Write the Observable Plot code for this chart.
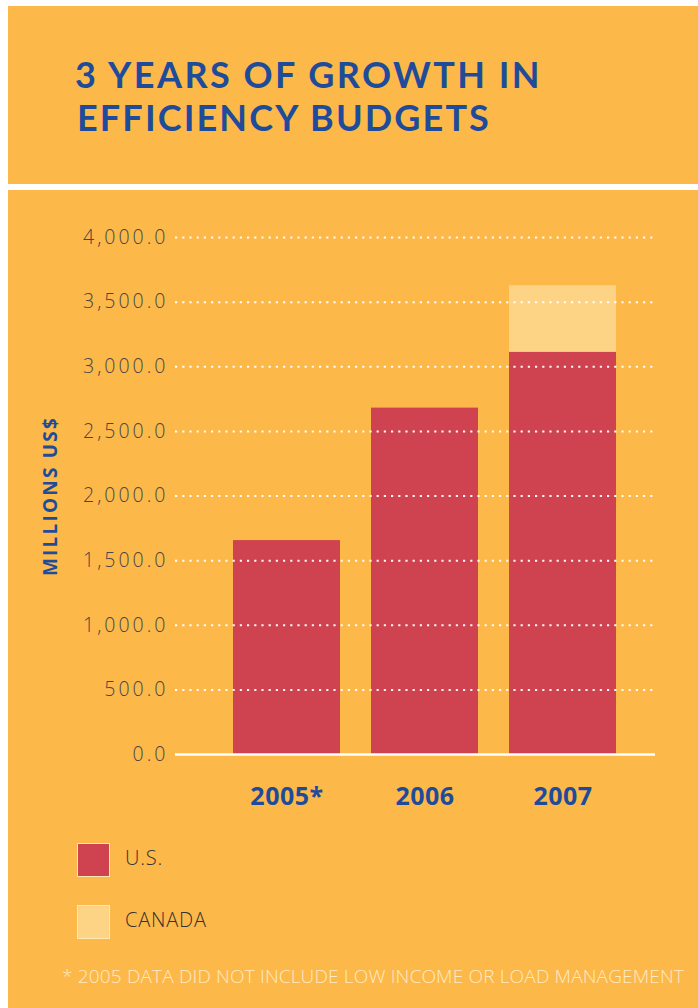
<!DOCTYPE html>
<html>
<head>
<meta charset="utf-8">
<script src="https://cdn.jsdelivr.net/npm/d3@7"></script>
<script src="https://cdn.jsdelivr.net/npm/@observablehq/plot@0.6"></script>
<style>
  html, body { margin: 0; padding: 0; background: #ffffff; width: 698px; height: 1008px; overflow: hidden; }
  #top { position: absolute; left: 8px; top: 6px; width: 690px; height: 178px; background: #FDB84A; }
  .tl { position: absolute; margin: 0; font-family: Lato, sans-serif; font-weight: 700;
        font-size: 36px; line-height: 36px; color: #1E4C9A; white-space: nowrap; }
  #main { position: absolute; left: 8px; top: 190px; width: 690px; height: 818px; background: #FDB84A; }
  #chart { position: absolute; left: 0; top: 0; }
  #chart svg { background: transparent; overflow: visible; }
  #chart [aria-label="y-axis label"] text, #chart [aria-label="y-axis label"] { fill: #1E4C9A; font-weight: 700; font-size: 19px; letter-spacing: 2.2px; font-family: "Open Sans", sans-serif; }
  #chart [aria-label="y-axis tick label"] text { fill: #474747; letter-spacing: 3px; }
  #chart [aria-label="x-axis tick label"] text { fill: #1E4C9A; font-weight: 700; letter-spacing: 0.5px; }
  .legend { position: absolute; left: 69px; font-family: "Open Sans", sans-serif; font-weight: 300; font-size: 20px; color: #333; letter-spacing: 0.8px; }
  .legend .sw { position: absolute; left: 0; top: 0; width: 31px; height: 32px; border: 1.5px solid #FDE7B5; }
  .legend .lb { position: absolute; left: 48px; top: 1px; white-space: nowrap; }
  #note { position: absolute; left: 54px; top: 773px; font-family: "Open Sans", sans-serif; font-weight: 300; font-size: 19px;
          color: #FFEBC2; white-space: nowrap; }
</style>
</head>
<body>
<div id="top">
  <div class="tl" id="t1" style="left:67px; top:50px">3 YEARS OF GROWTH IN</div>
  <div class="tl" id="t2" style="left:69px; top:93px">EFFICIENCY BUDGETS</div>
</div>
<div id="main">
  <div id="chart"></div>
  <div class="legend" style="top:653px"><div class="sw" id="sw0"></div><div class="lb" id="lb0"></div></div>
  <div class="legend" style="top:715px"><div class="sw" id="sw1"></div><div class="lb" id="lb1"></div></div>
  <div id="note">* 2005 DATA DID NOT INCLUDE LOW INCOME OR LOAD MANAGEMENT</div>
</div>
<script>
const years = ["2005*", "2006", "2007"];
const series = ["U.S.", "CANADA"];
const usValues = [1655, 2680, 3112];
const canadaValues = [0, 0, 515];
const yTicks = [0, 500, 1000, 1500, 2000, 2500, 3000, 3500, 4000];
const colors = ["#CE434F", "#FDD486"];

const data = [];
years.forEach((y, i) => {
  data.push({year: y, country: series[0], value: usValues[i]});
  data.push({year: y, country: series[1], value: canadaValues[i]});
});

const fmt = d3.format(",.1f");

const chart = Plot.plot({
  width: 690,
  height: 640,
  marginLeft: 167,
  marginRight: 43,
  marginTop: 47,
  marginBottom: 76,
  style: {background: "transparent", fontFamily: "Open Sans, sans-serif", overflow: "visible"},
  x: {domain: years, paddingInner: 0.225, paddingOuter: 0.34, align: 0.6, label: null},
  y: {domain: [0, 4000], label: null},
  color: {domain: series, range: colors},
  marks: [
    Plot.barY(data, {x: "year", y: "value", fill: "country", order: series}),
    Plot.ruleY(yTicks.filter(d => d > 0), {stroke: "#ffffff", strokeWidth: 2, strokeDasharray: "2.2,5", strokeOpacity: 0.95}),
    Plot.ruleY([0], {stroke: "#ffffff", strokeWidth: 2.5}),
    Plot.axisY({ticks: yTicks, tickFormat: fmt, tickSize: 0, tickPadding: 7, fontSize: 19.5, fontWeight: 300,
                label: "MILLIONS US$", labelAnchor: "center", labelOffset: 132, labelArrow: "none"}),
    Plot.axisX({tickSize: 0, tickPadding: 33, fontSize: 25, label: null})
  ]
});
document.getElementById("chart").appendChild(chart);

series.forEach((s, i) => {
  document.getElementById("sw" + i).style.background = colors[i];
  document.getElementById("lb" + i).textContent = s;
});

// stretch text lines to the widths they occupy in the reference
function fitWidth(el, target) {
  const n = el.textContent.length;
  const w = el.getBoundingClientRect().width;
  el.style.letterSpacing = ((target - w) / n) + "px";
}
fitWidth(document.getElementById("t1"), 467);
fitWidth(document.getElementById("t2"), 414);
fitWidth(document.getElementById("note"), 622);
</script>
</body>
</html>
